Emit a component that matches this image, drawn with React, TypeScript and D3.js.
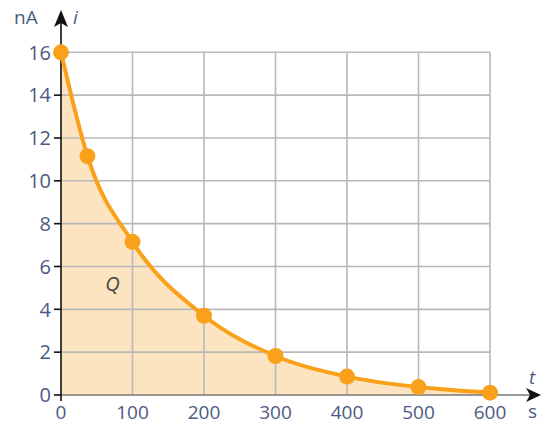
import React from "react";
import * as d3 from "d3";

// discharge current readings
const times = [0, 37, 100, 200, 300, 400, 500, 600];
const currents = [16, 11.15, 7.15, 3.7, 1.82, 0.86, 0.37, 0.11];
const xTicks = [0, 100, 200, 300, 400, 500, 600];
const yTicks = [0, 2, 4, 6, 8, 10, 12, 14, 16];

const ORANGE = "#f9a11b";
const FILL = "#fde4c0";
const GRID = "#b8b8b8";
const TEXT = "#4b5a82";
const FONT = "'Open Sans', 'DejaVu Sans', sans-serif";

export default function App() {
  const W = 547;
  const H = 426;

  const x = d3.scaleLinear().domain([0, 600]).range([61, 490]);
  const y = d3.scaleLinear().domain([0, 16]).range([395, 52.3]);

  const pts = times.map((t, k) => [t, currents[k]] as [number, number]);

  const line = d3
    .line<[number, number]>()
    .x((d) => x(d[0]))
    .y((d) => y(d[1]))
    .curve(d3.curveMonotoneX);

  const area = d3
    .area<[number, number]>()
    .x((d) => x(d[0]))
    .y0(y(0))
    .y1((d) => y(d[1]))
    .curve(d3.curveMonotoneX);

  const x0 = x(0);
  const y0 = y(0);

  return (
    <svg
      width={W}
      height={H}
      style={{ position: "absolute", left: 0, top: 0, background: "#fff" }}
      fontFamily={FONT}
    >
      {/* area under curve */}
      <path d={area(pts) || ""} fill={FILL} />

      {/* grid */}
      {xTicks.slice(1).map((t) => (
        <line key={"gx" + t} x1={x(t)} x2={x(t)} y1={y0} y2={y(16)} stroke={GRID} strokeWidth={1.6} />
      ))}
      {yTicks.slice(1).map((v) => (
        <line key={"gy" + v} x1={x0} x2={x(600)} y1={y(v)} y2={y(v)} stroke={GRID} strokeWidth={1.6} />
      ))}

      {/* x axis */}
      <line x1={x0} x2={532} y1={y0} y2={y0} stroke="#777" strokeWidth={1.4} />
      <path d={`M541,${y0} L526,${y0 - 7} L530,${y0} L526,${y0 + 7} Z`} fill="#111" />

      {/* y axis */}
      <line x1={x0} x2={x0} y1={y0 + 6} y2={22} stroke="#111" strokeWidth={1.6} />
      <path d={`M${x0},10 L${x0 - 7},27 L${x0},23 L${x0 + 7},27 Z`} fill="#111" />
      {yTicks.map((v) => (
        <line key={"ty" + v} x1={x0 - 7} x2={x0} y1={y(v)} y2={y(v)} stroke="#111" strokeWidth={1.6} />
      ))}

      {/* curve and points */}
      <path d={line(pts) || ""} fill="none" stroke={ORANGE} strokeWidth={4} />
      {pts.map((d, k) => (
        <circle key={"p" + k} cx={x(d[0])} cy={y(d[1])} r={8} fill={ORANGE} />
      ))}

      {/* tick labels */}
      {yTicks.map((v) => (
        <text key={"ly" + v} x={x0 - 10} y={y(v)} dy="0.36em" textAnchor="end" fontSize={20} fill={TEXT}>
          {v}
        </text>
      ))}
      {xTicks.map((t) => (
        <text key={"lx" + t} x={x(t)} y={419} textAnchor="middle" fontSize={19} fill={TEXT}>
          {t}
        </text>
      ))}

      {/* axis names and units */}
      <text x={14} y={24} fontSize={19} fill={TEXT}>nA</text>
      <text x={73} y={24} fontSize={19} fontStyle="italic" fill={TEXT}>i</text>
      <text x={529} y={384} fontSize={19} fontStyle="italic" fill={TEXT}>t</text>
      <text x={528} y={418} fontSize={19} fill={TEXT}>s</text>
      <text x={x(72)} y={y(5.2)} dy="0.36em" textAnchor="middle" fontSize={20} fontStyle="italic" fill="#444">
        Q
      </text>
    </svg>
  );
}
